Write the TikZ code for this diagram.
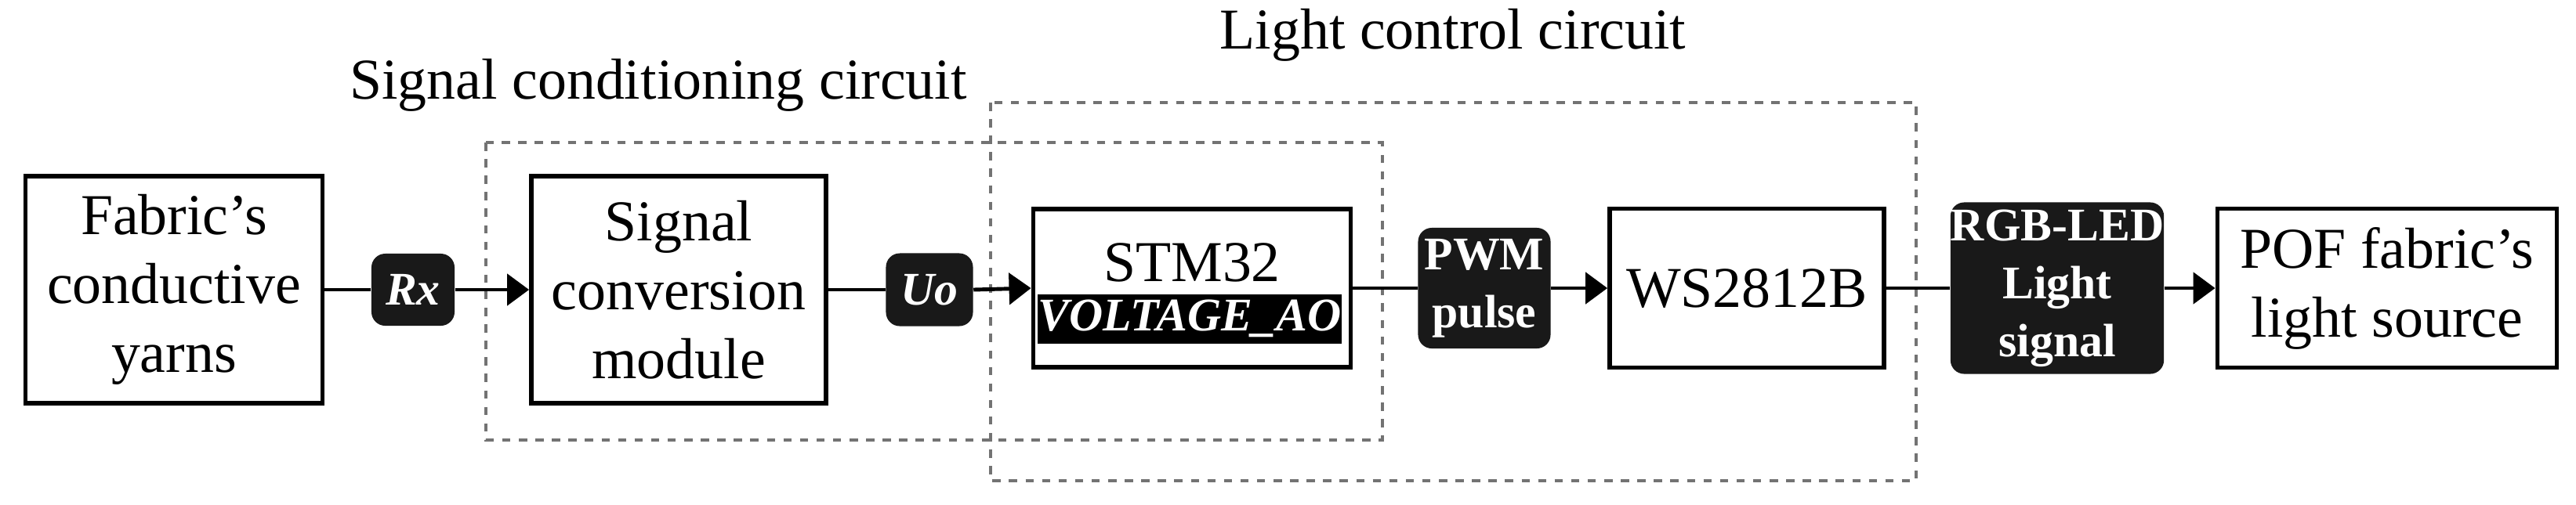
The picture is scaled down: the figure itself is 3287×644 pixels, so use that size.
\documentclass[tikz,border=0pt]{standalone}
\usepackage{fontspec}
\setmainfont{Liberation Serif}
\usetikzlibrary{arrows.meta}
\begin{document}
\begin{tikzpicture}[x=0.01cm,y=-0.01cm,
  box/.style={draw,line width=1.6pt,align=center,font=\fontsize{21}{25}\selectfont,inner sep=0pt},
  lab/.style={fill=black!90,rounded corners=5pt,text=white,align=center,font=\bfseries\fontsize{17}{21}\selectfont,inner sep=0pt},
  grp/.style={draw=black!55,line width=1.2pt,dash pattern=on 3pt off 3pt},
  conn/.style={line width=1.4pt},
  arr/.style={conn,-{Triangle[length=0.28cm,width=0.4cm]}},
  ttl/.style={font=\fontsize{21}{25}\selectfont}]
\useasboundingbox (0,0) rectangle (3287,644);
\draw[grp] (620,182) rectangle (1764,562);
\draw[grp] (1264,131) rectangle (2445,614);
\node[ttl] (t1) at (840,109) {Signal conditioning circuit};
\node[ttl] (t2) at (1854,45) {Light control circuit};
\node[box,minimum width=3.79cm,minimum height=2.9cm] (b1) at (222,370) {Fabric's\\conductive\\yarns};
\node[box,minimum width=3.76cm,minimum height=2.9cm] (b2) at (866,370) {Signal\\conversion\\module};
\node[box,minimum width=4.05cm,minimum height=2.02cm] (b3) at (1521,368) {};
\node[font=\fontsize{21}{25}\selectfont] (s1) at (1521,335) {STM32};
\node[fill=black,text=white,font=\bfseries\itshape\fontsize{17}{20}\selectfont,minimum width=3.25cm,minimum height=0.63cm,inner sep=0pt] (s2) at (1518,407) {VOLTAGE\_AO};
\node[box,minimum width=3.5cm,minimum height=2.03cm] (b4) at (2229,368) {WS2812B};
\node[box,minimum width=4.33cm,minimum height=2.03cm] (b5) at (3046,368) {POF fabric's\\light source};
\node[lab,minimum width=1.06cm,minimum height=0.92cm,font=\bfseries\itshape\fontsize{17}{21}\selectfont] (rx) at (527,370) {Rx};
\node[lab,minimum width=1.11cm,minimum height=0.93cm,font=\bfseries\itshape\fontsize{17}{21}\selectfont] (uo) at (1186,370) {Uo};
\node[lab,minimum width=1.69cm,minimum height=1.54cm] (pwm) at (1894,368) {PWM\\pulse};
\node[lab,minimum width=2.53cm,minimum height=2.19cm] (rgb) at (2625,368) {RGB-LED\\Light\\signal};
\draw[conn] (b1.east) -- (rx.west);
\draw[arr] (rx.east) -- (b2.west);
\draw[conn] (b2.east) -- (uo.west);
\draw[arr] (uo.east) -- (b3.west);
\draw[conn] (b3.east) -- (pwm.west);
\draw[arr] (pwm.east) -- (b4.west);
\draw[conn] (b4.east) -- (rgb.west);
\draw[arr] (rgb.east) -- (b5.west);
\end{tikzpicture}
\end{document}
